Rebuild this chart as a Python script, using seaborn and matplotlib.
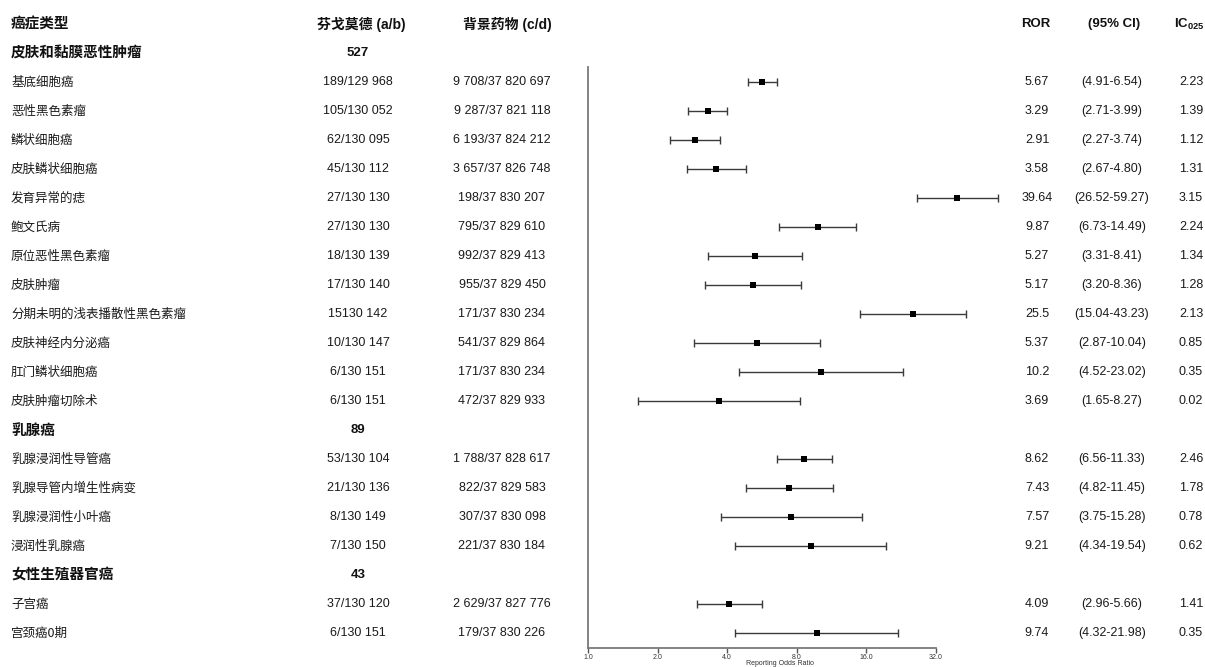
import matplotlib
matplotlib.use("Agg")
import matplotlib.pyplot as plt
import matplotlib.transforms as mtransforms
import numpy as np
import pandas as pd
import seaborn as sns

# ---------------- data ----------------
group_names = ["皮肤和黏膜恶性肿瘤", "乳腺癌", "女性生殖器官癌"]
group_totals = ["527", "89", "43"]
group_sizes = [12, 4, 2]

names = ["基底细胞癌", "恶性黑色素瘤", "鳞状细胞癌", "皮肤鳞状细胞癌", "发育异常的痣",
         "鲍文氏病", "原位恶性黑色素瘤", "皮肤肿瘤", "分期未明的浅表播散性黑色素瘤",
         "皮肤神经内分泌癌", "肛门鳞状细胞癌", "皮肤肿瘤切除术",
         "乳腺浸润性导管癌", "乳腺导管内增生性病变", "乳腺浸润性小叶癌", "浸润性乳腺癌",
         "子宫癌", "宫颈癌0期"]
drug_ab = ["189/129 968", "105/130 052", "62/130 095", "45/130 112", "27/130 130",
           "27/130 130", "18/130 139", "17/130 140", "15130 142", "10/130 147",
           "6/130 151", "6/130 151",
           "53/130 104", "21/130 136", "8/130 149", "7/130 150",
           "37/130 120", "6/130 151"]
bg_cd = ["9 708/37 820 697", "9 287/37 821 118", "6 193/37 824 212", "3 657/37 826 748",
         "198/37 830 207", "795/37 829 610", "992/37 829 413", "955/37 829 450",
         "171/37 830 234", "541/37 829 864", "171/37 830 234", "472/37 829 933",
         "1 788/37 828 617", "822/37 829 583", "307/37 830 098", "221/37 830 184",
         "2 629/37 827 776", "179/37 830 226"]
ror = [5.67, 3.29, 2.91, 3.58, 39.64, 9.87, 5.27, 5.17, 25.5, 5.37, 10.2, 3.69,
       8.62, 7.43, 7.57, 9.21, 4.09, 9.74]
ci_low = [4.91, 2.71, 2.27, 2.67, 26.52, 6.73, 3.31, 3.20, 15.04, 2.87, 4.52, 1.65,
          6.56, 4.82, 3.75, 4.34, 2.96, 4.32]
ci_high = [6.54, 3.99, 3.74, 4.80, 59.27, 14.49, 8.41, 8.36, 43.23, 10.04, 23.02, 8.27,
           11.33, 11.45, 15.28, 19.54, 5.66, 21.98]
ror_text = ["5.67", "3.29", "2.91", "3.58", "39.64", "9.87", "5.27", "5.17", "25.5",
            "5.37", "10.2", "3.69", "8.62", "7.43", "7.57", "9.21", "4.09", "9.74"]
ci_text = ["(4.91-6.54)", "(2.71-3.99)", "(2.27-3.74)", "(2.67-4.80)", "(26.52-59.27)",
           "(6.73-14.49)", "(3.31-8.41)", "(3.20-8.36)", "(15.04-43.23)", "(2.87-10.04)",
           "(4.52-23.02)", "(1.65-8.27)", "(6.56-11.33)", "(4.82-11.45)", "(3.75-15.28)",
           "(4.34-19.54)", "(2.96-5.66)", "(4.32-21.98)"]
ic025 = ["2.23", "1.39", "1.12", "1.31", "3.15", "2.24", "1.34", "1.28", "2.13", "0.85",
         "0.35", "0.02", "2.46", "1.78", "0.78", "0.62", "1.41", "0.35"]
x_ticks = [1, 2, 4, 8, 16, 32]
x_ticklabels = ["1.0", "2.0", "4.0", "8.0", "16.0", "32.0"]

# ---------------- layout rows ----------------
row_pos = []
group_pos = []
r = 0
for g, n in zip(group_names, group_sizes):
    group_pos.append(r)
    r += 1
    for _ in range(n):
        row_pos.append(r)
        r += 1

df = pd.DataFrame({"name": names, "ror": ror, "lo": ci_low, "hi": ci_high, "row": row_pos})

# ---------------- figure ----------------
sns.set_theme(style="white")
plt.rcParams["font.family"] = ["Liberation Sans", "Noto Sans CJK SC", "DejaVu Sans"]
plt.rcParams["mathtext.fontset"] = "custom"
plt.rcParams["mathtext.rm"] = "Liberation Sans"
plt.rcParams["mathtext.bf"] = "Liberation Sans:bold"

W, H = 1205, 667
fig = plt.figure(figsize=(W / 100, H / 100), dpi=100)
fig.patch.set_facecolor("white")

ax_left, ax_right = 588, 936
ax_bottom_px = 648
ax = fig.add_axes([ax_left / W, (H - ax_bottom_px) / H, (ax_right - ax_left) / W, ax_bottom_px / H])

row0_px, row_step = 53, 29
ax.set_ylim((ax_bottom_px - row0_px) / row_step, -row0_px / row_step)
ax.set_xscale("log", base=2)
ax.set_xlim(1, 32)

# CI lines (not clipped: some intervals run past the 32.0 end of the axis)
eb = ax.errorbar(df["ror"], df["row"],
                 xerr=[df["ror"] - df["lo"], df["hi"] - df["ror"]],
                 fmt="none", ecolor="#3a3a3a", elinewidth=1.0, capsize=3.2, capthick=1.0, zorder=2)
for art in eb.lines[1] + eb.lines[2]:
    art.set_clip_on(False)
sns.scatterplot(data=df, x="ror", y="row", marker="s", s=20, color="black",
                edgecolor="black", linewidth=0, ax=ax, zorder=3, legend=False)
for coll in ax.collections:
    coll.set_clip_on(False)

ax.set_xticks(x_ticks)
ax.set_xticklabels(x_ticklabels, fontsize=5, color="#333333")
ax.minorticks_off()
ax.tick_params(axis="x", which="major", direction="out", length=3.5, width=1, color="#555555", pad=1, bottom=True)
ax.set_yticks([])
ax.set_xlabel("")
ax.set_ylabel("")
for s in ["top", "right"]:
    ax.spines[s].set_visible(False)
for s in ["left", "bottom"]:
    ax.spines[s].set_color("#7a7a7a")
    ax.spines[s].set_linewidth(1.3)
ax.spines["left"].set_bounds((ax_bottom_px - row0_px) / row_step, (67 - row0_px) / row_step)

fig.text(780 / W, 0.4 / H, "Reporting Odds Ratio", fontsize=5,
         ha="center", va="bottom", color="#333333")

# ---------------- table texts ----------------
tr = mtransforms.blended_transform_factory(fig.transFigure, ax.transData)
cjk = ["Noto Sans CJK SC", "DejaVu Sans"]
num = ["Liberation Sans", "Noto Sans CJK SC", "DejaVu Sans"]
dark = "#111111"

def put(xpx, y, s, ha="center", size=9, weight="normal", family=num, color=dark):
    ax.text(xpx / W, y, s, transform=tr, ha=ha, va="center", fontsize=size,
            fontweight=weight, family=family, color=color, clip_on=False)

hdr_y = -1
put(11, hdr_y, "癌症类型", ha="left", size=10.5, weight="bold", family=cjk)
put(361, hdr_y, "芬戈莫德 (a/b)", size=10, weight="bold")
put(507, hdr_y, "背景药物 (c/d)", size=10, weight="bold")
put(1036, hdr_y, "ROR", size=9.5, weight="bold")
put(1114, hdr_y, "(95% CI)", size=9.5, weight="bold")
put(1189, hdr_y, r"IC$_{\mathbf{025}}$", size=9.5, weight="bold")

for g, tot, yp in zip(group_names, group_totals, group_pos):
    put(11, yp, g, ha="left", size=10.5, weight="bold", family=cjk)
    put(358, yp, tot, size=9.5, weight="bold")

for i in range(len(names)):
    y = row_pos[i]
    put(11, y, names[i], ha="left", size=9, family=cjk, color="#1a1a1a")
    put(358, y, drug_ab[i], size=9, color="#1a1a1a")
    put(502, y, bg_cd[i], size=9, color="#1a1a1a")
    put(1037, y, ror_text[i], size=9, color="#1a1a1a")
    put(1112, y, ci_text[i], size=9, color="#1a1a1a")
    put(1191, y, ic025[i], size=9, color="#1a1a1a")

fig.savefig("out.png", dpi=100, facecolor="white")
